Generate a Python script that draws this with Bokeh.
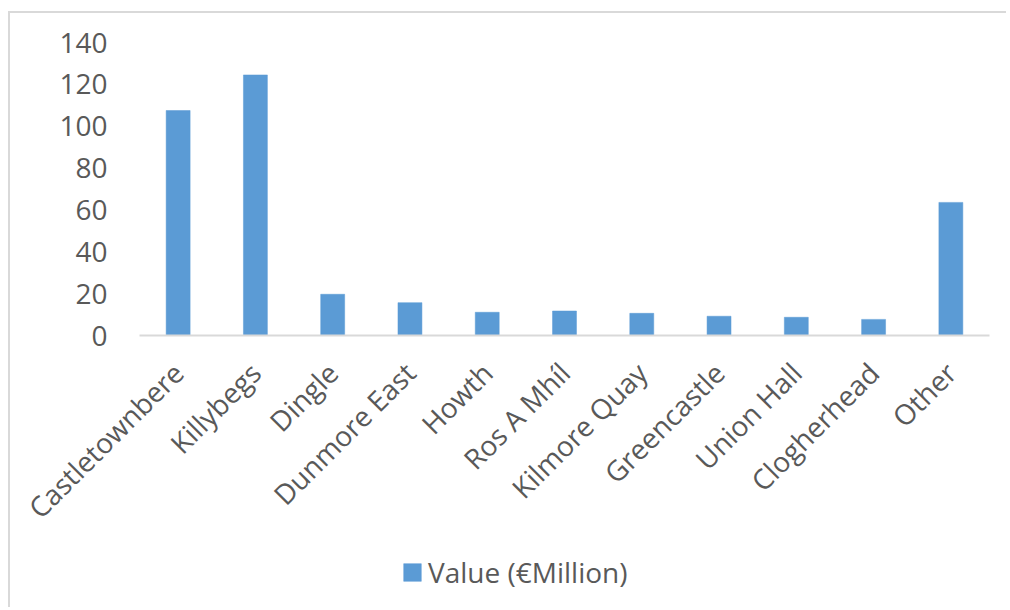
import math
from bokeh.plotting import figure
from bokeh.layouts import column
from bokeh.models import ColumnDataSource, Legend, LegendItem, FactorRange, Range1d, FixedTicker
from bokeh.embed import file_html
from bokeh.resources import INLINE

ports = ["Castletownbere", "Killybegs", "Dingle", "Dunmore East", "Howth", "Ros A Mhíl",
         "Kilmore Quay", "Greencastle", "Union Hall", "Clogherhead", "Other"]
values = [107.5, 124.5, 19.7, 15.7, 11.1, 11.7, 10.6, 9.2, 8.7, 7.7, 63.6]
y_ticks = [0, 20, 40, 60, 80, 100, 120, 140]
series_name = "Value (€Million)"

FONT = "Open Sans"
TXT = "#595959"
BAR = "#5B9BD5"

src = ColumnDataSource(dict(port=ports, value=values))

W = 996
main = figure(width=W, height=530, x_range=FactorRange(*ports, range_padding=0),
              y_range=Range1d(0, 140), output_backend="svg", toolbar_location=None,
              min_border_left=129, min_border_right=W - 979, min_border_top=29, min_border_bottom=208)

main.vbar(x="port", top="value", width=0.31, source=src, fill_color=BAR, line_color=BAR, line_width=0.5)

main.outline_line_color = None
main.xgrid.grid_line_color = None
main.ygrid.grid_line_color = None

main.yaxis.ticker = FixedTicker(ticks=y_ticks)
main.yaxis.axis_line_color = None
main.yaxis.major_tick_line_color = None
main.yaxis.minor_tick_line_color = None
main.yaxis.major_label_text_font = FONT
main.yaxis.major_label_text_font_size = "28px"
main.yaxis.major_label_text_color = TXT
main.yaxis.major_label_standoff = 26

main.xaxis.axis_line_color = "#d9d9d9"
main.xaxis.axis_line_width = 2
main.xaxis.major_tick_line_color = None
main.xaxis.minor_tick_line_color = None
main.xaxis.major_label_orientation = math.pi / 4
main.xaxis.major_label_text_font = FONT
main.xaxis.major_label_text_font_size = "28px"
main.xaxis.major_label_text_color = TXT
main.xaxis.major_label_standoff = 26

# legend strip (series key only; proxy renderer is hidden)
leg = figure(width=W, height=64, x_range=FactorRange(*ports), y_range=Range1d(0, 1),
             output_backend="svg", toolbar_location=None,
             x_axis_location=None, y_axis_location=None,
             min_border_left=0, min_border_right=0, min_border_top=0, min_border_bottom=0)
leg.outline_line_color = None
leg.xgrid.grid_line_color = None
leg.ygrid.grid_line_color = None
proxy = leg.vbar(x="port", top="value", width=0.31, source=src, fill_color=BAR, line_color=BAR,
                 line_width=0.5, visible=False)
legend = Legend(items=[LegendItem(label=series_name, renderers=[proxy])],
                location=(262, 16), orientation="horizontal", click_policy="none",
                label_text_font=FONT, label_text_font_size="28px", label_text_color=TXT,
                glyph_width=22, glyph_height=22, label_standoff=5, padding=0, margin=0,
                border_line_color=None, background_fill_alpha=0, inactive_fill_alpha=0)
leg.add_layout(legend, "center")

p = column(main, leg, spacing=0)
p.styles = {"margin-left": "8px", "margin-top": "11px",
            "border-left": "2px solid #d9d9d9", "border-top": "2px solid #d9d9d9",
            "border-right": "0px none", "border-bottom": "0px none"}

open("out.html", "w").write(file_html(p, INLINE))
